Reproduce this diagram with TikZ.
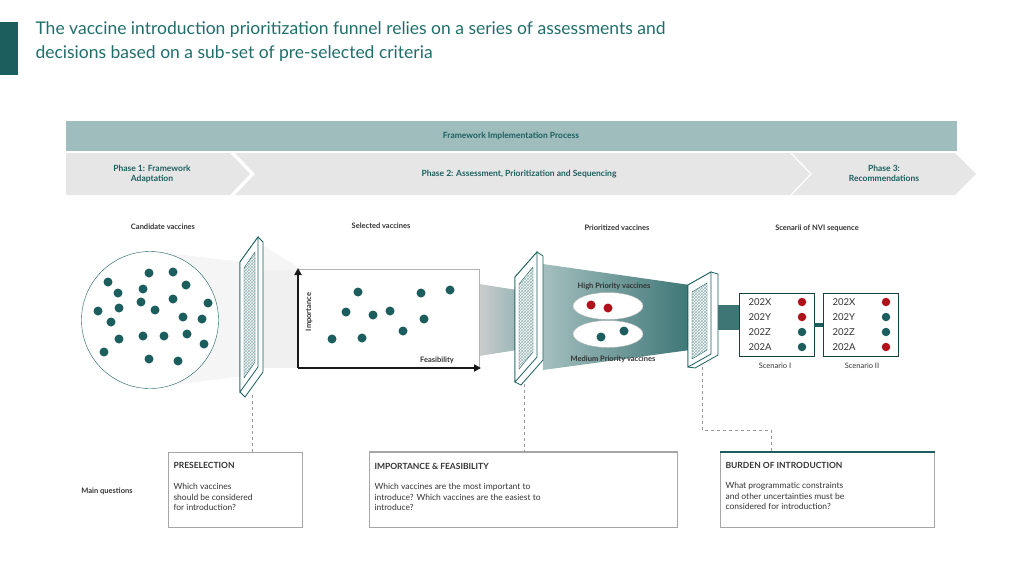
\documentclass[tikz,border=0pt]{standalone}
\usepackage{fontspec}
\setmainfont{Lato}
\usetikzlibrary{patterns,shapes.geometric,arrows.meta}
\definecolor{teal1}{HTML}{1C5E5E}
\definecolor{tealt}{HTML}{1F6E6B}
\definecolor{hdr}{HTML}{9FBDBD}
\definecolor{ph}{HTML}{E6E6E6}
\definecolor{dred}{HTML}{B0121B}
\definecolor{txt}{HTML}{333333}
\begin{document}
\begin{tikzpicture}[x=1pt,y=-1pt,
 dot/.style={circle,fill=teal1,inner sep=0pt,minimum size=9pt},
 rdot/.style={circle,fill=dred,inner sep=0pt,minimum size=9pt},
 lbl/.style={font=\fontsize{7.5}{9}\selectfont\bfseries,text=txt},
 qbox/.style={draw=gray!70,line width=0.8pt,minimum height=75pt,anchor=north west},
 qtitle/.style={font=\fontsize{8.5}{10}\selectfont\bfseries,text=txt,anchor=west},
 qtext/.style={font=\fontsize{8.5}{10.5}\selectfont,text=txt,anchor=north west,align=left},
 filt/.style={draw=teal1,line width=0.8pt,fill=white},
 dline/.style={dashed,draw=gray!80,line width=0.8pt}]
\useasboundingbox (0,0) rectangle (1024,576);
\fill[teal1] (0,22) rectangle (18,75);
\node[anchor=north west,text=tealt,font=\fontsize{17.5}{24}\selectfont,align=left] (title) at (32,18) {The vaccine introduction prioritization funnel relies on a series of assessments and\\decisions based on a sub-set of pre-selected criteria};
% header
\fill[hdr] (66,121) rectangle (957,151);
\node[font=\fontsize{8.5}{10}\selectfont\bfseries,text=teal1] (fip) at (511,136) {Framework Implementation Process};
\fill[ph] (66,153) -- (230,153) -- (250,174) -- (230,195) -- (66,195) -- cycle;
\fill[ph] (235,153) -- (790,153) -- (810,174) -- (790,195) -- (235,195) -- (255,174) -- cycle;
\fill[ph] (792,153) -- (955,153) -- (976,174) -- (955,195) -- (792,195) -- (812,174) -- cycle;
\node[font=\fontsize{8.5}{10}\selectfont\bfseries,text=teal1,align=center] (p1) at (152,174) {Phase 1: Framework\\Adaptation};
\node[font=\fontsize{8.5}{10}\selectfont\bfseries,text=teal1] (p2) at (519,174) {Phase 2: Assessment, Prioritization and Sequencing};
\node[font=\fontsize{8.5}{10}\selectfont\bfseries,text=teal1,align=center] (p3) at (884,173) {Phase 3:\\Recommendations};
% funnel bands
\fill[gray!8] (150,251) -- (243,262) -- (243,376) -- (150,388) -- cycle;
\fill[gray!12] (262,270) -- (300,270) -- (300,368) -- (262,368) -- cycle;
\shade[left color=gray!40,right color=teal1!45] (479,284) -- (517,290) -- (517,350) -- (479,356) -- cycle;
\shade[left color=teal1!40,right color=teal1!85] (543,264) -- (690,285) -- (690,350) -- (543,370) -- cycle;
\fill[teal1!85] (716,305) -- (740,305) -- (740,330) -- (716,330) -- cycle;
% circle
\node[draw=teal1,fill=white,circle,minimum size=137pt,inner sep=0pt] (cand) at (150,320) {};
\foreach \x/\y in {149/273,173/272,108/282,186/285,118/293,143/289,141/302,173/299,208/303,98/311,119/308,155/310,111/322,183/317,202/319,119/339,143/336,164/336,187/334,204/344,104/352,149/359,178/361}
  \node[dot] at (\x,\y) {};
% filter 1
\fill[gray!8] (262,245) -- (300,268) -- (300,270) -- (262,270) -- cycle;
\draw[filt] (240,262) -- (258,237) -- (263,242) -- (263,372) -- (245,397) -- (240,392) -- cycle;
\draw[filt] (240,262) -- (258,237) -- (258,367) -- (240,392) -- cycle;
\draw[draw=teal1,pattern=crosshatch,pattern color=teal1!45] (244,268) -- (255,252) -- (255,362) -- (244,378) -- cycle;
% plot
\node[draw=gray!60,fill=white,minimum width=181pt,minimum height=99pt,anchor=north west,inner sep=0pt] (plot) at (298,269) {};
\coordinate (o) at (298,368);
\coordinate (yt) at (298,268);
\coordinate (xt) at (481,368);
\draw[-{Triangle[length=7pt,width=7pt]},line width=2pt,draw=gray!20!black] (o) -- (yt);
\draw[-{Triangle[length=7pt,width=7pt]},line width=2pt,draw=gray!20!black] (o) -- (xt);
\node[lbl,rotate=90] (imp) at (309,312) {Importance};
\node[lbl] (feas) at (437,360) {Feasibility};
\foreach \x/\y in {358/292,346/312,373/315,390/311,421/293,450/290,424/319,403/331,332/339,362/338}
  \node[dot] at (\x,\y) {};
% filter 2
\draw[filt] (515,277) -- (537,252) -- (543,256) -- (543,360) -- (521,385) -- (515,382) -- cycle;
\draw[filt] (515,277) -- (537,252) -- (537,357) -- (515,382) -- cycle;
\draw[draw=teal1,pattern=crosshatch,pattern color=teal1!45] (519,284) -- (533,267) -- (533,352) -- (519,369) -- cycle;
% ellipses
\node[ellipse,draw=gray!60,fill=white,minimum width=70pt,minimum height=27pt] (hi) at (608,306) {};
\node[ellipse,draw=gray!60,fill=white,minimum width=70pt,minimum height=27pt] (med) at (608,334) {};
\node[rdot] at (591,305) {};
\node[rdot] at (608,308) {};
\node[dot] at (601,337) {};
\node[dot] at (624,331) {};
\node[lbl] (hil) at (614,286) {High Priority vaccines};
\node[lbl] (medl) at (613,359) {Medium Priority vaccines};
% filter 3
\draw[filt] (688,285) -- (711,272) -- (718,274) -- (718,355) -- (695,368) -- (688,367) -- cycle;
\draw[filt] (688,285) -- (711,272) -- (711,354) -- (688,367) -- cycle;
\draw[draw=teal1,pattern=crosshatch,pattern color=teal1!45] (692,292) -- (707,283) -- (707,350) -- (692,359) -- cycle;
% scenarios
\node[draw=teal1!70!black,fill=white,minimum width=75pt,minimum height=63pt,anchor=north west,inner sep=0pt] (s1) at (739,293) {};
\node[draw=teal1!70!black,fill=white,minimum width=75pt,minimum height=63pt,anchor=north west,inner sep=0pt] (s2) at (823,293) {};
\draw[teal1,line width=4pt] (s1.east) -- (s2.west);
\foreach \t/\y/\a/\b in {202X/302/dred/dred,202Y/317/dred/teal1,202Z/332/teal1/teal1,202A/347/teal1/dred}{
  \node[anchor=west,font=\fontsize{9.5}{10}\selectfont,text=txt] at (745,\y) {\t};
  \node[circle,fill=\a,inner sep=0pt,minimum size=8.5pt] at (802,\y) {};
  \node[anchor=west,font=\fontsize{9.5}{10}\selectfont,text=txt] at (829,\y) {\t};
  \node[circle,fill=\b,inner sep=0pt,minimum size=8.5pt] at (886,\y) {};
}
\node[font=\fontsize{7.5}{9}\selectfont,text=txt] (sc1) at (775,366) {Scenario I};
\node[font=\fontsize{7.5}{9}\selectfont,text=txt] (sc2) at (862,366) {Scenario II};
% top labels
\node[lbl] at (163,227) {Candidate vaccines};
\node[lbl] at (381,226) {Selected vaccines};
\node[lbl] at (617,228) {Prioritized vaccines};
\node[lbl] at (817,228) {Scenarii of NVI sequence};
% bottom boxes
\node[qbox,minimum width=134pt] (b1) at (168,452) {};
\node[qbox,minimum width=308pt] (b2) at (369,452) {};
\node[qbox,minimum width=214pt] (b3) at (720,452) {};
\draw[gray!70,line width=2pt] (b2.north west) -- (b2.north east);
\draw[teal1,line width=2pt] (b3.north west) -- (b3.north east);
\node[qtitle] at (170,465) {PRESELECTION};
\node[qtext] at (170,480) {Which vaccines\\should be considered\\for introduction?};
\node[qtitle] at (371,466) {IMPORTANCE \& FEASIBILITY};
\node[qtext] at (371,480) {Which vaccines are the most important to\\introduce? Which vaccines are the easiest to\\introduce?};
\node[qtitle] at (722,465) {BURDEN OF INTRODUCTION};
\node[qtext] at (722,479) {What programmatic constraints\\and other uncertainties must be\\considered for introduction?};
\node[lbl] at (107,491) {Main questions};
% dashed
\coordinate (d1) at (252,395);
\coordinate (d2) at (524,384);
\coordinate (d3) at (702,367);
\coordinate (d4) at (771,430);
\draw[dline] (d1) -- (d1 |- b1.north);
\draw[dline] (d2) -- (d2 |- b2.north);
\draw[dline] (d3) -- (d3 |- d4) -- (d4) -- (d4 |- b3.north);
\end{tikzpicture}
\end{document}
